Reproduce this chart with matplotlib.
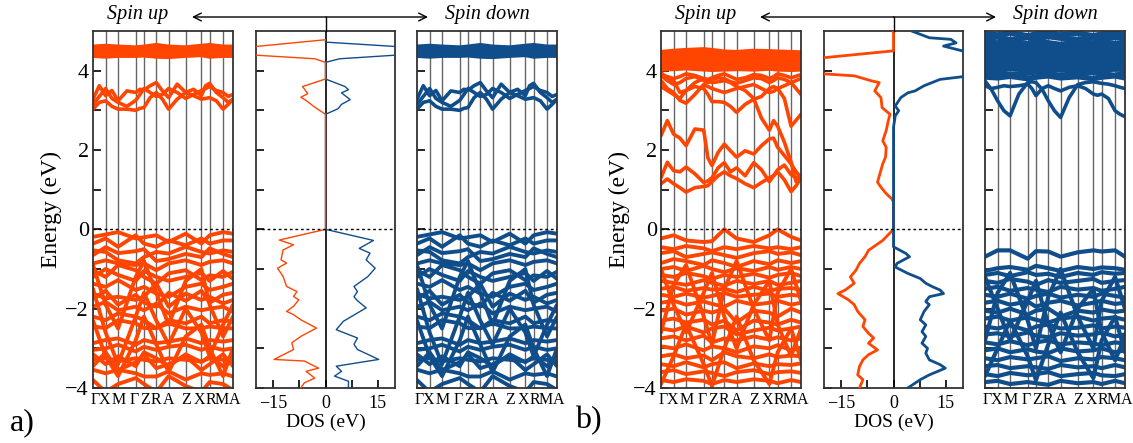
import matplotlib
matplotlib.use('Agg')
import matplotlib.pyplot as plt
import matplotlib.transforms as mtransforms
from matplotlib.patches import FancyArrowPatch
from matplotlib.lines import Line2D

plt.rcParams['font.family'] = ['Liberation Serif', 'DejaVu Serif']

W, H = 1133, 443
red = '#FF4500'
blue = '#104E8B'

# k-path (fraction of the path) and labels
k_sym = [0, 0.090, 0.179, 0.305, 0.364, 0.452, 0.540, 0.662, 0.774, 0.833, 0.929, 1.0]
k_labels = ['Γ', 'X', 'M', 'Γ', 'Z', 'R', 'A', 'Z', 'X', 'R', 'M', 'A']
# small pixel nudges so the crowded labels sit side by side
k_label_nudge = [2, -1, 1, -1.5, 1.5, 0, 0, 0, -2, 1, -1, 2]
k_fine = [0, 0.045, 0.090, 0.135, 0.179, 0.242, 0.305, 0.335, 0.364, 0.408, 0.452, 0.496,
          0.540, 0.601, 0.662, 0.718, 0.774, 0.804, 0.833, 0.881, 0.929, 0.965, 1.0]

# ---------------- panel a bands (same for both spins) ----------------
top_a = [
    [4.58, 4.60, 4.58, 4.56, 4.58, 4.62, 4.58, 4.56, 4.60, 4.62, 4.58, 4.58],
    [4.52, 4.53, 4.50, 4.52, 4.54, 4.52, 4.50, 4.52, 4.55, 4.52, 4.50, 4.52],
    [4.46, 4.45, 4.44, 4.46, 4.47, 4.44, 4.42, 4.45, 4.48, 4.45, 4.44, 4.46],
    [4.40, 4.38, 4.40, 4.40, 4.41, 4.38, 4.37, 4.40, 4.42, 4.38, 4.40, 4.40],
]
cond_a = [
    [3.28, 3.62, 3.37, 3.50, 3.24, 3.49, 3.45, 3.53, 3.51, 3.62, 3.70, 3.49,
     3.32, 3.66, 3.45, 3.53, 3.37, 3.62, 3.68, 3.45, 3.32, 3.20, 3.28],
    [3.03, 3.20, 3.24, 3.10, 3.03, 3.03, 3.00, 3.05, 3.07, 3.32, 3.45, 3.28,
     3.03, 3.28, 3.45, 3.37, 3.28, 3.30, 3.32, 3.24, 3.03, 3.15, 3.28],
    [3.15, 3.35, 3.55, 3.30, 3.20, 3.10, 3.25, 3.40, 3.55, 3.45, 3.35, 3.40,
     3.55, 3.45, 3.30, 3.40, 3.50, 3.55, 3.60, 3.50, 3.45, 3.35, 3.40],
]
val_a = [
    [-0.19, -0.13, -0.07, -0.23, -0.20, -0.15, -0.32, -0.11, -0.36, -0.15, -0.07, -0.11],
    [-0.36, -0.23, -0.44, -0.15, -0.36, -0.44, -0.28, -0.40, -0.23, -0.36, -0.28, -0.28],
    [-0.53, -0.57, -0.78, -0.86, -0.70, -0.57, -0.61, -0.44, -0.57, -0.61, -0.53, -0.57],
    [-0.65, -0.45, -0.60, -0.55, -0.50, -0.80, -0.75, -0.62, -0.70, -0.48, -0.62, -0.70],
    [-0.86, -0.78, -0.86, -0.90, -0.86, -1.03, -0.86, -0.78, -0.90, -0.82, -0.78, -0.86],
    [-1.03, -1.20, -0.90, -1.03, -1.20, -1.37, -1.11, -1.03, -1.28, -1.16, -1.20, -1.07],
    [-1.20, -1.00, -1.15, -1.30, -1.05, -1.20, -1.30, -1.20, -1.10, -1.30, -1.05, -1.25],
    [-1.37, -1.45, -1.28, -1.53, -1.45, -1.62, -1.70, -1.45, -1.37, -1.53, -1.45, -1.37],
    [-1.62, -1.74, -1.70, -1.78, -1.70, -1.37, -1.95, -1.62, -1.78, -1.70, -1.87, -1.78],
    [-1.75, -1.55, -1.90, -1.65, -1.85, -1.95, -1.60, -1.80, -1.55, -1.85, -1.65, -1.60],
    [-1.95, -1.83, -2.04, -1.95, -2.04, -1.87, -2.12, -1.95, -2.04, -2.00, -1.95, -2.08],
    [-2.20, -2.29, -2.12, -2.20, -2.29, -2.50, -2.29, -2.37, -2.20, -2.37, -2.29, -2.33],
    [-2.45, -2.49, -2.29, -2.37, -2.49, -2.49, -2.37, -2.50, -2.49, -2.45, -2.49, -2.50],
    [-2.87, -2.79, -2.75, -2.91, -2.79, -2.87, -2.83, -2.75, -2.87, -2.79, -2.83, -2.79],
    [-3.04, -3.00, -2.91, -3.08, -2.96, -3.04, -2.96, -2.91, -3.04, -2.96, -3.04, -3.00],
    [-3.15, -3.40, -3.20, -3.45, -3.10, -3.25, -3.45, -3.15, -3.35, -3.20, -3.45, -3.20],
    [-3.29, -3.25, -3.33, -3.25, -3.29, -3.33, -3.25, -3.29, -3.33, -3.25, -3.29, -3.33],
    [-3.54, -3.63, -3.54, -3.63, -3.71, -3.71, -3.58, -3.79, -3.63, -3.67, -3.63, -3.71],
    [-3.80, -4.10, -3.90, -3.75, -3.90, -4.10, -3.70, -3.95, -4.10, -3.85, -3.90, -4.05],
    [-1.50, -2.60, -3.40, -2.20, -1.60, -2.30, -2.90, -2.00, -2.60, -3.20, -2.40, -1.90],
    [-0.90, -1.90, -2.50, -1.20, -0.80, -1.60, -2.40, -1.30, -1.00, -1.90, -2.70, -2.20],
    [-3.45, -3.10, -3.55, -3.35, -3.15, -3.50, -3.40, -3.20, -3.55, -3.40, -3.15, -3.45],
    [-2.30, -3.20, -3.70, -2.80, -2.20, -2.90, -3.60, -2.70, -2.40, -3.00, -3.70, -3.00],
]

# ---------------- panel b, spin up ----------------
top_b_up = [
    [4.45, 4.48, 4.50, 4.52, 4.50, 4.46, 4.45, 4.48, 4.47, 4.46, 4.45, 4.44],
    [4.35, 4.36, 4.40, 4.38, 4.37, 4.35, 4.34, 4.36, 4.38, 4.35, 4.36, 4.35],
    [4.25, 4.27, 4.28, 4.26, 4.25, 4.24, 4.26, 4.27, 4.25, 4.26, 4.24, 4.25],
    [4.15, 4.16, 4.18, 4.15, 4.16, 4.14, 4.15, 4.17, 4.15, 4.16, 4.14, 4.15],
    [4.05, 4.06, 4.08, 4.05, 4.04, 4.05, 4.06, 4.05, 4.07, 4.05, 4.04, 4.05],
]
cond_b_up = [
    [3.90, 3.85, 3.80, 3.85, 3.92, 3.88, 3.80, 3.78, 3.82, 3.88, 3.92, 3.85,
     3.78, 3.82, 3.90, 3.88, 3.80, 3.85, 3.92, 3.88, 3.82, 3.86, 3.90],
    [3.88, 3.75, 3.65, 3.70, 3.80, 3.85, 3.75, 3.70, 3.78, 3.82, 3.80, 3.72,
     3.68, 3.75, 3.82, 3.80, 3.70, 3.75, 3.82, 3.78, 3.70, 3.75, 3.80],
    [3.75, 3.55, 3.45, 3.25, 3.18, 3.40, 3.65, 3.60, 3.55, 3.50, 3.45, 3.50,
     3.55, 3.60, 3.65, 3.55, 3.45, 3.48, 3.55, 3.62, 3.70, 3.55, 3.40],
    [3.60, 3.50, 3.40, 3.30, 3.50, 3.60, 3.55, 3.40, 3.22, 3.22, 3.20, 3.10,
     2.95, 3.15, 3.28, 3.35, 3.55, 3.60, 3.55, 3.30, 2.60, 2.75, 2.90],
    [3.95, 3.80, 3.75, 3.45, 3.50, 3.70, 3.80, 3.75, 3.70, 3.72, 3.75, 3.70,
     3.60, 3.50, 3.30, 2.80, 2.50, 2.74, 2.60, 2.20, 1.70, 1.20, 1.30],
    [2.36, 2.74, 2.40, 2.30, 2.11, 2.53, 2.50, 1.80, 1.61, 1.94, 2.15, 1.98,
     1.82, 1.98, 1.90, 2.11, 2.28, 2.30, 2.07, 1.86, 1.65, 1.45, 1.31],
    [1.30, 1.69, 1.48, 1.45, 1.57, 1.40, 1.18, 1.22, 1.30, 1.55, 1.68, 1.45,
     1.55, 1.35, 1.68, 1.50, 1.20, 1.35, 1.50, 1.62, 1.38, 1.30, 1.35],
    [1.15, 1.27, 1.15, 1.05, 0.94, 1.05, 1.08, 1.10, 1.20, 1.35, 1.45, 1.35,
     1.28, 1.15, 1.05, 1.18, 1.30, 1.35, 1.45, 1.25, 0.95, 1.10, 1.30],
]
val_b_up = [
    [-0.23, -0.15, -0.28, -0.32, -0.30, 0.00, -0.23, -0.32, -0.15, 0.00, -0.19, -0.28],
    [-0.45, -0.50, -0.42, -0.48, -0.55, -0.45, -0.50, -0.42, -0.48, -0.45, -0.50, -0.45],
    [-0.60, -0.55, -0.70, -0.62, -0.58, -0.65, -0.72, -0.60, -0.55, -0.62, -0.58, -0.65],
    [-0.85, -0.75, -0.80, -0.90, -0.78, -0.85, -0.95, -0.80, -0.88, -0.78, -0.85, -0.80],
    [-1.00, -0.95, -1.05, -0.92, -1.00, -1.08, -0.98, -1.05, -0.95, -1.02, -0.95, -1.00],
    [-1.15, -1.20, -1.10, -1.18, -1.25, -1.15, -1.20, -1.12, -1.22, -1.15, -1.10, -1.18],
    [-1.30, -1.35, -1.40, -1.28, -1.35, -1.42, -1.30, -1.38, -1.30, -1.40, -1.35, -1.30],
    [-1.50, -1.45, -1.55, -1.48, -1.52, -1.50, -1.58, -1.45, -1.55, -1.50, -1.48, -1.52],
    [-1.65, -1.70, -1.62, -1.72, -1.68, -1.60, -1.70, -1.65, -1.62, -1.70, -1.65, -1.68],
    [-1.85, -1.80, -1.90, -1.82, -1.88, -1.95, -1.80, -1.90, -1.85, -1.80, -1.90, -1.85],
    [-2.05, -2.00, -2.15, -2.05, -2.10, -2.00, -2.35, -2.05, -2.10, -2.20, -2.00, -2.10],
    [-2.30, -2.25, -2.35, -2.28, -2.40, -2.30, -2.55, -2.30, -2.35, -2.40, -2.28, -2.35],
    [-2.50, -2.55, -2.45, -2.60, -2.50, -2.45, -2.65, -2.55, -2.48, -2.55, -2.50, -2.45],
    [-2.75, -2.70, -2.80, -2.68, -2.85, -2.75, -2.80, -2.70, -2.78, -2.72, -2.80, -2.75],
    [-2.95, -3.00, -2.90, -3.05, -2.95, -3.00, -3.10, -2.95, -3.00, -2.92, -3.05, -2.98],
    [-3.20, -3.15, -3.25, -3.18, -3.30, -3.10, -3.20, -3.25, -3.15, -3.22, -3.18, -3.20],
    [-3.40, -3.45, -3.35, -3.48, -3.40, -3.35, -3.50, -3.38, -3.45, -3.40, -3.42, -3.38],
    [-3.60, -3.55, -3.65, -3.58, -3.62, -3.70, -3.60, -3.55, -3.65, -3.60, -3.58, -3.62],
    [-3.80, -3.85, -3.78, -3.82, -3.90, -3.80, -3.85, -3.78, -3.82, -3.88, -3.80, -3.85],
    [-1.00, -1.90, -2.60, -1.60, -1.10, -2.20, -3.00, -1.90, -1.30, -2.40, -3.20, -2.50],
    [-2.60, -1.40, -0.90, -2.20, -2.90, -1.50, -0.80, -2.00, -2.80, -1.60, -1.00, -1.80],
    [-3.90, -3.20, -2.40, -3.40, -3.95, -3.00, -2.20, -3.30, -3.90, -3.10, -2.50, -3.30],
]

# ---------------- panel b, spin down ----------------
top_b_dn = [
    [4.93, 4.90, 4.95, 4.88, 4.92, 4.96, 4.90, 4.94, 4.88, 4.92, 4.95, 4.90],
    [4.82, 4.85, 4.78, 4.84, 4.80, 4.86, 4.82, 4.78, 4.85, 4.80, 4.84, 4.82],
    [4.72, 4.70, 4.75, 4.68, 4.74, 4.70, 4.66, 4.72, 4.70, 4.74, 4.68, 4.72],
    [4.62, 4.60, 4.64, 4.60, 4.62, 4.58, 4.62, 4.64, 4.60, 4.62, 4.58, 4.62],
    [4.52, 4.54, 4.50, 4.52, 4.55, 4.52, 4.50, 4.52, 4.54, 4.50, 4.52, 4.52],
    [4.44, 4.45, 4.42, 4.44, 4.46, 4.43, 4.42, 4.44, 4.45, 4.42, 4.44, 4.43],
    [4.36, 4.35, 4.37, 4.36, 4.34, 4.36, 4.35, 4.37, 4.36, 4.35, 4.36, 4.35],
    [4.28, 4.27, 4.29, 4.28, 4.27, 4.28, 4.26, 4.28, 4.29, 4.27, 4.28, 4.28],
    [4.20, 4.19, 4.21, 4.20, 4.19, 4.20, 4.18, 4.20, 4.21, 4.19, 4.20, 4.20],
    [4.12, 4.11, 4.13, 4.12, 4.11, 4.12, 4.10, 4.12, 4.13, 4.11, 4.12, 4.12],
    [4.04, 4.03, 4.05, 4.04, 4.03, 4.04, 4.02, 4.04, 4.05, 4.03, 4.04, 4.04],
    [3.94, 3.96, 3.90, 3.94, 3.97, 3.92, 3.88, 3.94, 3.96, 3.92, 3.88, 3.94],
    [3.84, 3.82, 3.86, 3.80, 3.84, 3.87, 3.82, 3.85, 3.80, 3.84, 3.87, 3.82],
]
cond_b_dn = [
    [3.74, 3.53, 3.24, 2.99, 2.86, 3.41, 3.70, 3.72, 3.70, 3.53, 3.24, 2.99,
     2.82, 3.32, 3.65, 3.70, 3.72, 3.70, 3.68, 3.66, 3.62, 3.58, 3.55],
    [3.62, 3.55, 3.58, 3.62, 3.60, 3.62, 3.66, 3.55, 3.37, 3.55, 3.62, 3.55,
     3.49, 3.58, 3.62, 3.55, 3.41, 3.38, 3.41, 3.30, 2.99, 2.90, 2.84],
]
val_b_dn = [
    [-0.69, -0.53, -0.53, -0.74, -0.55, -0.56, -0.69, -0.58, -0.53, -0.56, -0.53, -0.69],
    [-1.05, -0.98, -0.95, -1.02, -0.92, -0.98, -1.05, -0.95, -1.00, -0.96, -0.98, -1.02],
    [-1.15, -1.10, -1.18, -1.08, -1.15, -1.12, -1.20, -1.10, -1.15, -1.08, -1.12, -1.10],
    [-1.30, -1.35, -1.25, -1.32, -1.40, -1.28, -1.35, -1.30, -1.25, -1.35, -1.30, -1.28],
    [-1.50, -1.45, -1.55, -1.48, -1.52, -1.58, -1.45, -1.52, -1.48, -1.55, -1.50, -1.45],
    [-1.65, -1.70, -1.62, -1.75, -1.68, -1.62, -1.72, -1.65, -1.70, -1.62, -1.68, -1.72],
    [-1.85, -1.80, -1.90, -1.82, -1.95, -1.85, -1.80, -1.92, -1.85, -1.80, -1.88, -1.85],
    [-2.05, -2.10, -2.00, -2.15, -2.05, -2.00, -2.20, -2.05, -2.10, -2.02, -2.08, -2.05],
    [-2.25, -2.20, -2.30, -2.22, -2.28, -2.35, -2.25, -2.20, -2.30, -2.25, -2.22, -2.28],
    [-2.45, -2.50, -2.42, -2.55, -2.45, -2.40, -2.50, -2.48, -2.42, -2.50, -2.45, -2.48],
    [-2.65, -2.62, -2.70, -2.60, -2.68, -2.72, -2.62, -2.68, -2.65, -2.60, -2.70, -2.65],
    [-2.85, -2.90, -2.82, -2.92, -2.85, -2.80, -2.90, -2.85, -2.88, -2.92, -2.85, -2.88],
    [-3.05, -3.00, -3.10, -3.02, -3.08, -3.12, -3.00, -3.08, -3.05, -3.00, -3.10, -3.05],
    [-3.25, -3.30, -3.22, -3.28, -3.25, -3.20, -3.32, -3.25, -3.28, -3.22, -3.25, -3.30],
    [-3.45, -3.42, -3.50, -3.45, -3.48, -3.52, -3.42, -3.48, -3.45, -3.50, -3.42, -3.48],
    [-3.65, -3.70, -3.62, -3.68, -3.65, -3.60, -3.70, -3.65, -3.62, -3.68, -3.70, -3.65],
    [-3.85, -3.82, -3.90, -3.85, -3.88, -3.92, -3.82, -3.88, -3.85, -3.90, -3.82, -3.88],
    [-1.20, -2.00, -2.80, -1.80, -1.30, -2.40, -3.10, -2.00, -1.50, -2.60, -3.30, -2.70],
    [-2.80, -1.60, -1.10, -2.30, -3.00, -1.70, -1.00, -2.20, -3.00, -1.80, -1.20, -2.00],
    [-3.70, -3.00, -2.30, -3.20, -3.80, -2.90, -2.10, -3.10, -3.75, -2.80, -2.20, -3.10],
]

# ---------------- DOS ----------------
dos_a_up_E = [4.78, 4.61, 4.60, 4.40, 4.39, 4.30, 4.21, 3.79, 3.60, 3.42, 3.33, 3.25, 3.08, 2.90,
              0.05, 0.0, -0.27, -0.39, -0.52, -0.77, -0.85, -0.98, -1.19, -1.44, -1.57, -1.69,
              -1.78, -1.94, -2.07, -2.15, -2.28, -2.49, -2.70, -2.86, -3.03, -3.12, -3.28, -3.32,
              -3.50, -3.58, -3.75, -3.87, -4.0]
dos_a_up = [0, -20, -22, -22, -20, -3.1, 0, 0, -6.6, -5.1, -7.1, -5.6, -3.1, 0,
            0, 0, -13.3, -9.2, -12.2, -12.8, -11.2, -13.8, -12.2, -11.2, -8.2, -9.2,
            -7.7, -9.2, -11.2, -9.2, -7.1, -2.6, -7.1, -9.7, -9.2, -11.2, -14.8, -6.1,
            -2.0, -5.6, -3.1, -6.1, -7.1]
dos_a_dn_E = [4.72, 4.61, 4.60, 4.40, 4.39, 4.30, 4.21, 3.79, 3.60, 3.52, 3.44, 3.27, 3.15, 3.04,
              2.90, 0.05, 0.0, -0.28, -0.48, -0.60, -0.77, -0.98, -1.19, -1.44, -1.57, -1.70,
              -1.80, -1.98, -2.32, -2.53, -2.74, -2.90, -3.03, -3.28, -3.45, -3.58, -3.70,
              -3.83, -4.0]
dos_a_dn = [0, 20, 22, 22, 20, 4.1, 0, 0, 5.6, 6.6, 4.6, 7.1, 4.6, 3.6,
            0, 0, 0, 13.8, 9.7, 12.8, 11.7, 14.3, 12.2, 8.2, 9.2, 8.2,
            9.2, 11.7, 5.1, 3.1, 9.2, 8.2, 9.2, 15.3, 3.1, 4.6, 2.6,
            6.6, 6.6]

dos_b_up_E = [5.0, 4.50, 4.31, 3.93, 3.87, 3.74, 3.70, 3.49, 3.32, 3.07, 2.90, 2.74, 2.49, 2.23,
              2.07, 1.82, 1.65, 1.19, 1.06, 0.90, 0.77, 0.69, 0.05, 0.0, -0.28, -0.53, -0.69,
              -0.86, -1.03, -1.20, -1.36, -1.53, -1.62, -1.78, -1.90, -2.07, -2.28, -2.45, -2.62,
              -2.74, -2.87, -3.04, -3.16, -3.29, -3.46, -3.67, -3.79, -4.0]
dos_b_up = [0, 0, -22, -22, -11.3, -6.2, -4.1, -5.4, -3.6, -3.3, -1.0, -1.5, -2.1, -3.1,
            -2.1, -2.3, -3.1, -4.6, -3.6, -2.1, -0.5, 0, 0, 0, -3.1, -7.2, -8.2,
            -9.8, -10.8, -12.4, -11.3, -13.9, -16.0, -12.9, -11.3, -10.3, -8.2, -8.8, -7.2,
            -5.7, -7.2, -4.6, -7.2, -8.8, -9.8, -10.3, -8.8, -9.8]
dos_b_dn_E = [5.0, 4.83, 4.79, 4.70, 4.62, 4.45, 3.87, 3.78, 3.62, 3.49, 3.44, 3.32, 3.11, 2.99,
              2.86, 2.57, 0.0, -0.44, -0.61, -0.69, -0.86, -0.95, -1.11, -1.24, -1.36, -1.45,
              -1.53, -1.62, -1.70, -1.82, -1.90, -2.07, -2.28, -2.41, -2.58, -2.70, -2.87, -3.00,
              -3.12, -3.29, -3.41, -3.50, -3.67, -3.79, -4.0]
dos_b_dn = [5.2, 10.3, 16.5, 18.0, 14.4, 22.0, 22.0, 13.4, 8.8, 6.2, 4.1, 2.1, 0.5, 1.5,
            0.5, 0, 0, 0, 3.6, 4.6, 1.0, 0.5, 4.1, 7.7, 9.3, 11.3,
            13.4, 14.4, 10.3, 9.3, 10.3, 8.8, 7.7, 9.3, 8.2, 9.3, 8.2, 9.8,
            9.3, 10.3, 13.4, 14.9, 10.3, 7.7, 4.1]


def px_axes(fig, x0, x1, top=31, bottom=388):
    return fig.add_axes([x0 / W, 1 - bottom / H, (x1 - x0) / W, (bottom - top) / H])


def style_axes(ax):
    for s in ax.spines.values():
        s.set_linewidth(1.3)
        s.set_color('#333333')
    ax.set_ylim(-4, 5)
    ax.set_yticks([-4, -2, 0, 2, 4])
    ax.set_yticks([-3, -1, 1, 3], minor=True)
    ax.tick_params(axis='y', which='major', direction='in', length=6, width=1.2,
                   labelsize=16, pad=3, right=False)
    ax.tick_params(axis='y', which='minor', direction='in', length=6, width=1.2, right=False)
    ax.axhline(0, color='black', lw=1.0, ls=(0, (2, 2)), zorder=5)


def band_panel(ax, groups, color, ylabels):
    style_axes(ax)
    for k in k_sym[1:-1]:
        ax.axvline(k, color='#666666', lw=1.0, zorder=1)
    for k, bands, lw in groups:
        for b in bands:
            ax.plot(k, b, color=color, lw=lw, solid_capstyle='round',
                    solid_joinstyle='round', zorder=2)
    ax.set_xlim(0, 1)
    ax.set_xticks([])
    trans = ax.get_xaxis_transform()
    for k, lab, dx in zip(k_sym, k_labels, k_label_nudge):
        off = mtransforms.ScaledTranslation(dx / 100, -4 / 100, ax.figure.dpi_scale_trans)
        ax.text(k, 0, lab, transform=trans + off, ha='center', va='top', fontsize=11.5)
    if ylabels:
        ax.set_ylabel('Energy (eV)', fontsize=17, labelpad=2)
    else:
        ax.set_yticklabels([])


def dos_panel(ax, curves):
    style_axes(ax)
    ax.axvline(0, color='black', lw=1.2, zorder=1)
    for E, d, color, lw in curves:
        ax.plot(d, E, color=color, lw=lw, zorder=3)
    ax.set_xlim(-20, 20)
    ax.set_xticks([-15, 0, 15])
    ax.set_xticks([-7.5, 7.5], minor=True)
    ax.tick_params(axis='x', which='both', direction='in', length=6, width=1.2,
                   labelsize=13, pad=5, top=False)
    ax.set_yticklabels([])
    ax.set_xlabel('DOS (eV)', fontsize=14, labelpad=1)


def header(fig, xc, xl, xr, xt_up, xt_dn):
    y_top = 1 - 31 / H
    y_arr = 1 - 17 / H
    fig.add_artist(Line2D([xc / W, xc / W], [y_top, y_arr], color='black', lw=1.0,
                          transform=fig.transFigure))
    for xe in (xl, xr):
        fig.add_artist(FancyArrowPatch((xc / W, y_arr), (xe / W, y_arr), arrowstyle='->',
                                       mutation_scale=14, lw=1.0, color='black',
                                       transform=fig.transFigure, shrinkA=0, shrinkB=0))
    fig.text(xt_up / W, 1 - 15 / H, 'Spin up', style='italic', fontsize=14.5,
             ha='center', va='center')
    fig.text(xt_dn / W, 1 - 15 / H, 'Spin down', style='italic', fontsize=14.5,
             ha='center', va='center')


fig = plt.figure(figsize=(W / 100, H / 100), dpi=100)

# panel a
groups_a = [(k_sym, top_a, 4.5), (k_fine, cond_a, 2.6), (k_sym, val_a, 2.8)]
ax = px_axes(fig, 93, 233)
band_panel(ax, groups_a, red, True)
ax = px_axes(fig, 256, 395)
dos_panel(ax, [(dos_a_dn_E, dos_a_dn, blue, 1.0), (dos_a_up_E, dos_a_up, red, 1.0)])
ax = px_axes(fig, 417, 557)
band_panel(ax, groups_a, blue, False)
header(fig, 326, 192, 428, 138, 487)
fig.text(22 / W, 1 - 423 / H, 'a)', fontsize=23, ha='center', va='center')

# panel b
ax = px_axes(fig, 661, 801)
band_panel(ax, [(k_sym, top_b_up, 4.2), (k_fine, cond_b_up, 2.6), (k_sym, val_b_up, 2.8)], red, True)
ax = px_axes(fig, 824, 963)
dos_panel(ax, [(dos_b_up_E, dos_b_up, red, 2.0), (dos_b_dn_E, dos_b_dn, blue, 2.0)])
ax = px_axes(fig, 985, 1125)
band_panel(ax, [(k_sym, top_b_dn, 4.0), (k_fine, cond_b_dn, 2.6), (k_sym, val_b_dn, 3.0)], blue, False)
header(fig, 893.5, 760, 996, 706, 1055)
fig.text(588 / W, 1 - 421 / H, 'b)', fontsize=23, ha='center', va='center')

fig.savefig('out.png', dpi=100)
